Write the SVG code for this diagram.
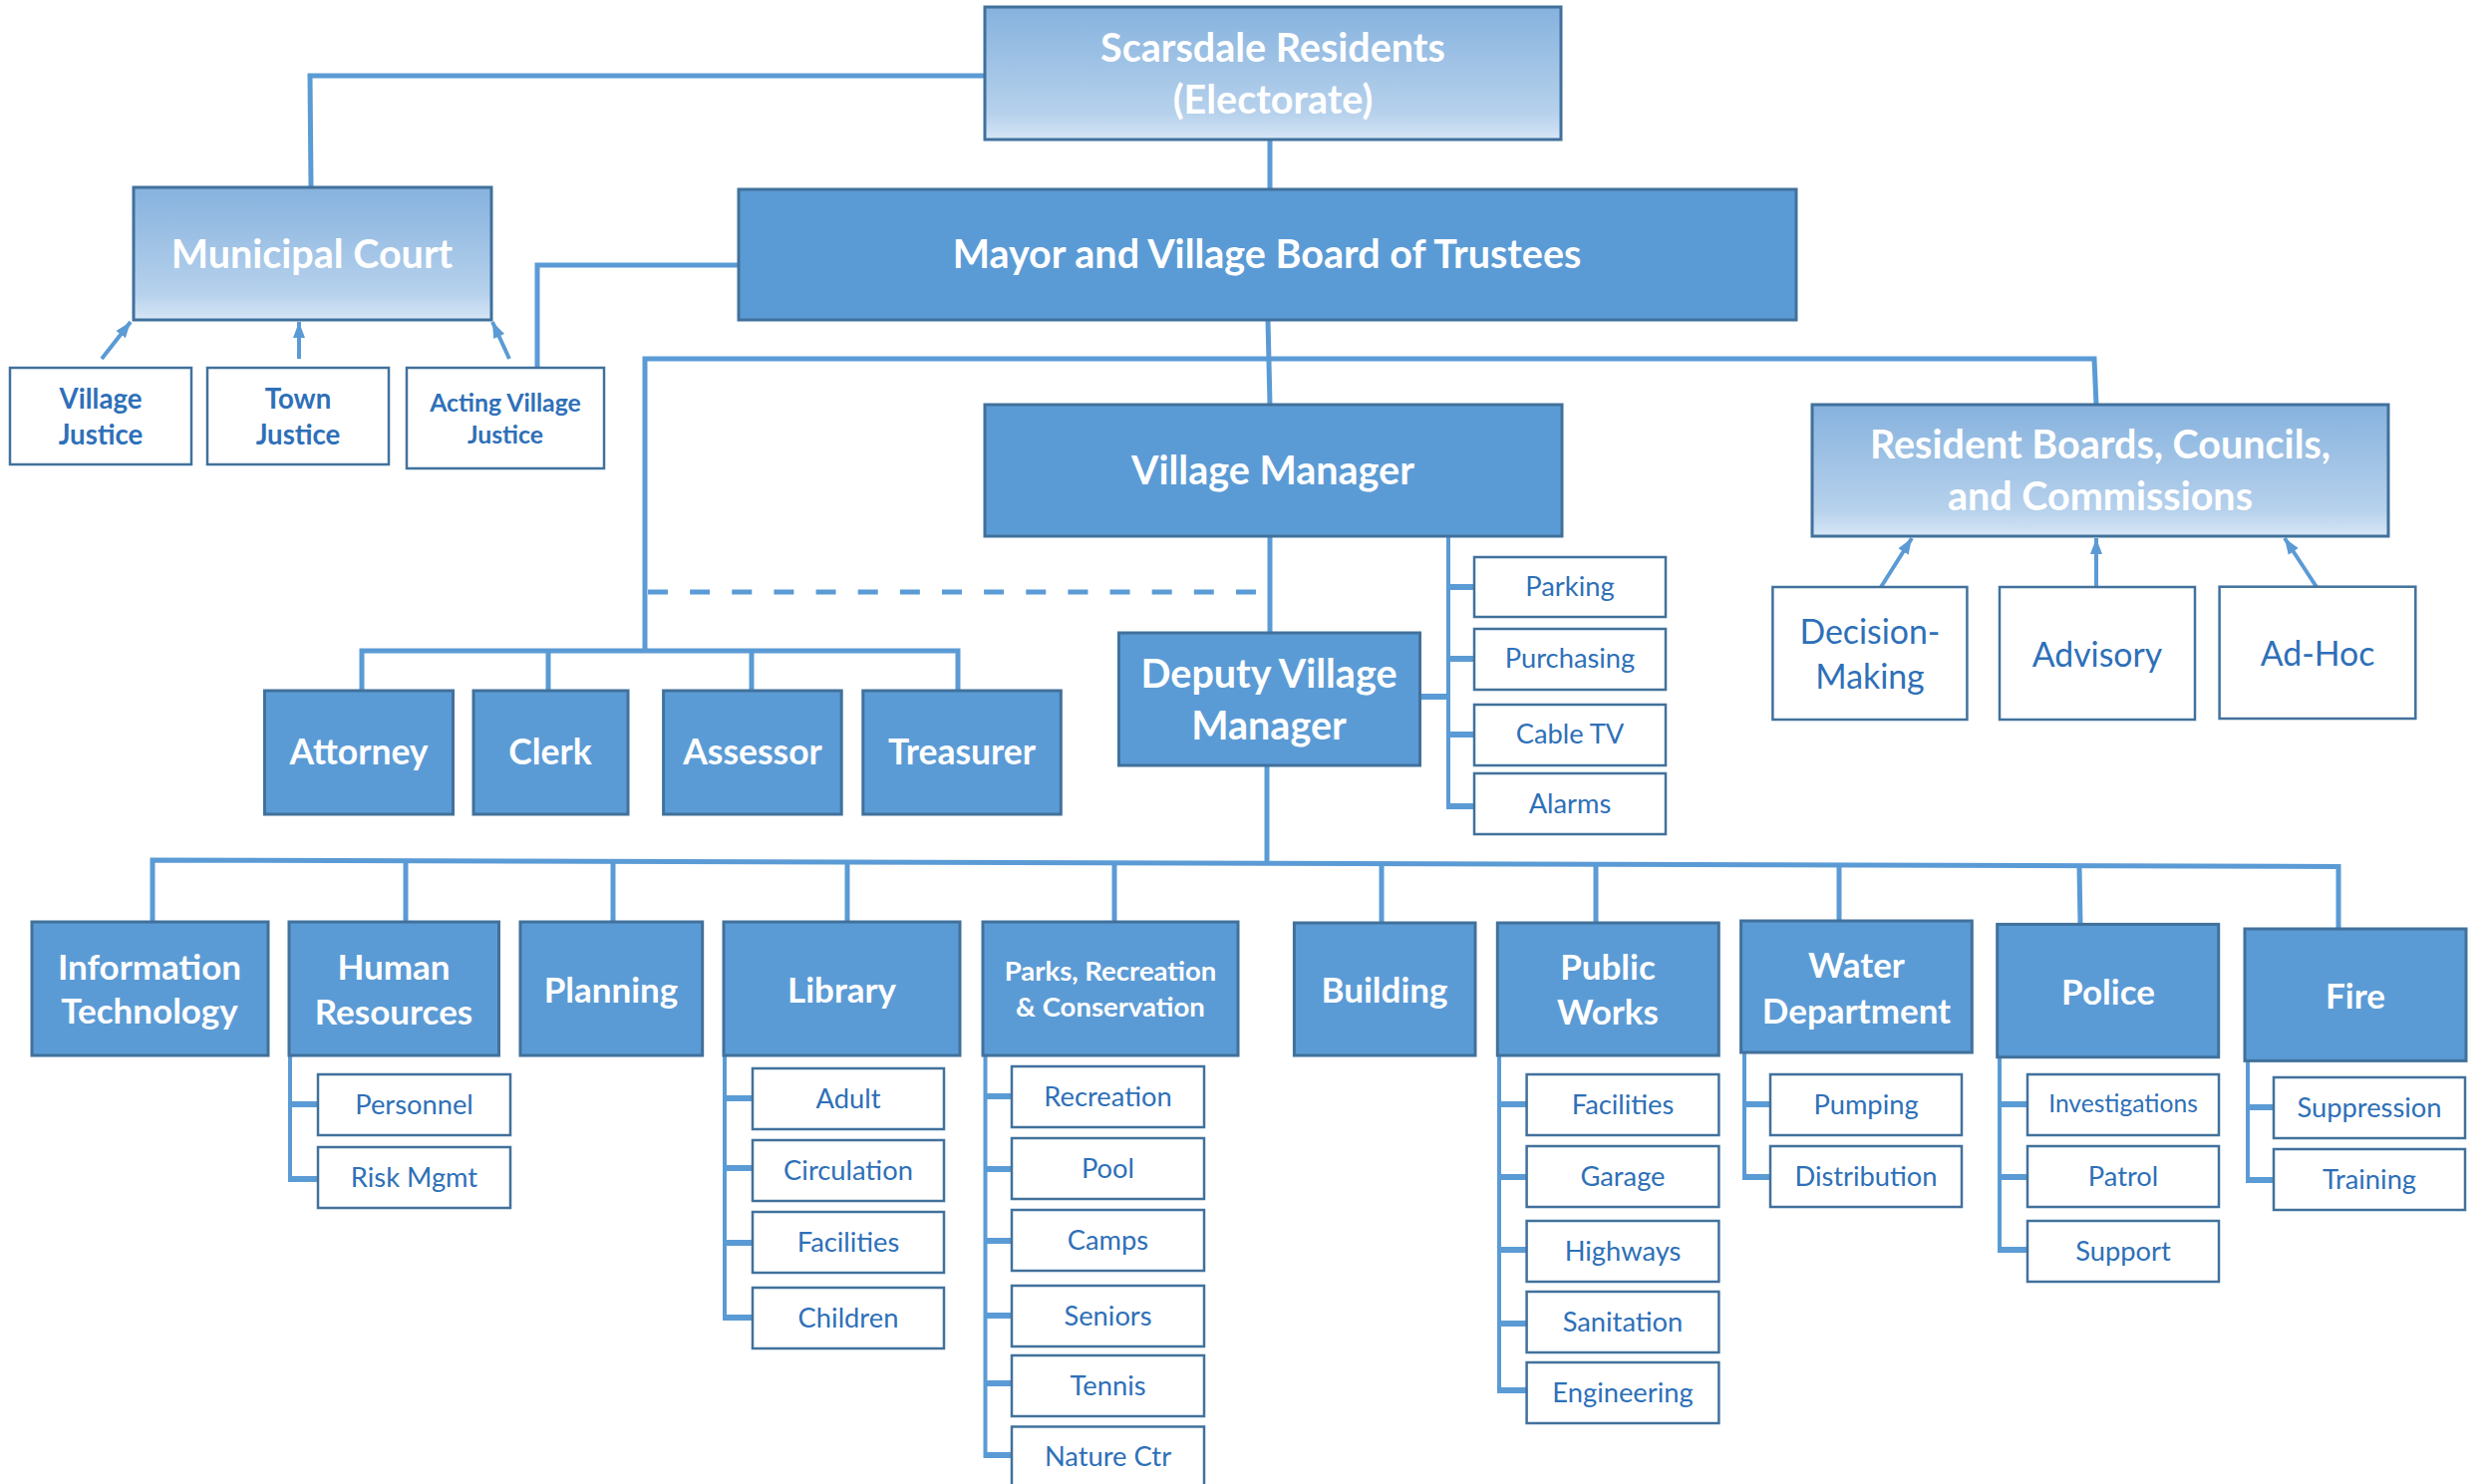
<svg xmlns="http://www.w3.org/2000/svg" width="2494" height="1489" viewBox="0 0 2494 1489">
<defs>
<linearGradient id="g" x1="0" y1="0" x2="0" y2="1">
<stop offset="0" stop-color="#86b2de"/>
<stop offset="0.8" stop-color="#b6d1ec"/>
<stop offset="1" stop-color="#d6e6f6"/>
</linearGradient>
<marker id="ah" markerUnits="userSpaceOnUse" markerWidth="16" markerHeight="14" refX="16" refY="7" orient="auto">
<path d="M0,1 L16,7 L0,13 Z" fill="#5b9bd5"/>
</marker>
<style>
.box{fill:#5b9bd5;stroke:#41719c;stroke-width:3}
.gbox{fill:url(#g);stroke:#41719c;stroke-width:3}
.sub{fill:#fff;stroke:#41719c;stroke-width:2.5}
.wt{font-family:Lato,"Open Sans",sans-serif;font-weight:700;fill:#fff;text-anchor:middle}
.bt{font-family:Lato,"Open Sans",sans-serif;fill:#2e70b8;text-anchor:middle}
.bb{font-family:Lato,"Open Sans",sans-serif;font-weight:700;fill:#2e70b8;text-anchor:middle}
.ln{stroke:#5b9bd5;stroke-width:5;fill:none}
.sp{stroke:#5b9bd5;stroke-width:4;fill:none}
.tk{stroke:#5b9bd5;stroke-width:6;fill:none}
.ar{stroke:#5b9bd5;stroke-width:4;fill:none;marker-end:url(#ah)}
.dash{stroke:#5b9bd5;stroke-width:5;fill:none;stroke-dasharray:20 22.14}
.f36{font-size:39.5px}.f33{font-size:35px}.f32{font-size:35.5px}.f27{font-size:27.5px}.f26{font-size:27.3px}.f23{font-size:24.8px}.f31{font-size:33.8px}.fjs{font-size:27.6px}.fin{font-size:24.6px}
</style>
</defs>

<g id="connectors">
<polyline class="ln" points="988,76 311,76 312,188"/>
<polyline class="ln" points="741,266 539,266 539,369"/>
<line class="ln" x1="1274" y1="140" x2="1274" y2="190"/>
<line class="ln" x1="1272" y1="321" x2="1274" y2="406"/>
<polyline class="ln" points="647,652 647,360 2101,360 2103,406"/>
<polyline class="ln" points="363,693 363,653 961,653 961,693"/>
<line class="ln" x1="550" y1="653" x2="550" y2="693"/>
<line class="ln" x1="754" y1="653" x2="754" y2="693"/>
<line class="dash" x1="650" y1="594" x2="1260" y2="594"/>
<line class="ln" x1="1274" y1="538" x2="1274" y2="635"/>
<line class="ln" x1="1271" y1="768" x2="1271" y2="866"/>
<!-- VM side spine -->
<line class="sp" x1="1453" y1="538" x2="1453" y2="812"/>
<line class="tk" x1="1424" y1="699" x2="1453" y2="699"/>
<line class="tk" x1="1451" y1="589" x2="1479" y2="589"/>
<line class="tk" x1="1451" y1="661" x2="1479" y2="661"/>
<line class="tk" x1="1451" y1="737" x2="1479" y2="737"/>
<line class="tk" x1="1451" y1="809" x2="1479" y2="809"/>
<!-- arrows -->
<line class="ar" x1="102" y1="360" x2="131" y2="323"/>
<line class="ar" x1="300" y1="360" x2="300" y2="323"/>
<line class="ar" x1="511" y1="360" x2="494" y2="323"/>
<line class="ar" x1="1887" y1="589" x2="1918" y2="540"/>
<line class="ar" x1="2103" y1="589" x2="2103" y2="540"/>
<line class="ar" x1="2324" y1="589" x2="2292" y2="540"/>
<!-- bottom bus -->
<polyline class="ln" points="153,925 153,863 2346,869.5 2346,932"/>
<line class="ln" x1="407" y1="864" x2="407" y2="925"/>
<line class="ln" x1="615" y1="864" x2="615" y2="925"/>
<line class="ln" x1="850" y1="865" x2="850" y2="926"/>
<line class="ln" x1="1118" y1="866" x2="1118" y2="926"/>
<line class="ln" x1="1386" y1="867" x2="1386" y2="926"/>
<line class="ln" x1="1601" y1="867" x2="1601" y2="926"/>
<line class="ln" x1="1845" y1="868" x2="1845" y2="924"/>
<line class="ln" x1="2086" y1="869" x2="2087" y2="927"/>
<!-- HR -->
<line class="sp" x1="291" y1="1058" x2="291" y2="1186"/>
<line class="tk" x1="289" y1="1108" x2="319" y2="1108"/>
<line class="tk" x1="289" y1="1183" x2="319" y2="1183"/>
<!-- Library -->
<line class="sp" x1="727" y1="1059" x2="727" y2="1325"/>
<line class="tk" x1="725" y1="1102" x2="755" y2="1102"/>
<line class="tk" x1="725" y1="1172" x2="755" y2="1172"/>
<line class="tk" x1="725" y1="1247" x2="755" y2="1247"/>
<line class="tk" x1="725" y1="1322" x2="755" y2="1322"/>
<!-- Parks -->
<line class="sp" x1="988.5" y1="1059" x2="988.5" y2="1463"/>
<line class="tk" x1="987" y1="1100" x2="1015" y2="1100"/>
<line class="tk" x1="987" y1="1173" x2="1015" y2="1173"/>
<line class="tk" x1="987" y1="1245" x2="1015" y2="1245"/>
<line class="tk" x1="987" y1="1320" x2="1015" y2="1320"/>
<line class="tk" x1="987" y1="1388" x2="1015" y2="1388"/>
<line class="tk" x1="987" y1="1460" x2="1015" y2="1460"/>
<!-- PW -->
<line class="sp" x1="1504" y1="1059" x2="1504" y2="1398"/>
<line class="tk" x1="1502" y1="1108" x2="1532" y2="1108"/>
<line class="tk" x1="1502" y1="1181" x2="1532" y2="1181"/>
<line class="tk" x1="1502" y1="1254" x2="1532" y2="1254"/>
<line class="tk" x1="1502" y1="1328" x2="1532" y2="1328"/>
<line class="tk" x1="1502" y1="1395" x2="1532" y2="1395"/>
<!-- Water -->
<line class="sp" x1="1750" y1="1056" x2="1750" y2="1184"/>
<line class="tk" x1="1748" y1="1108" x2="1776" y2="1108"/>
<line class="tk" x1="1748" y1="1181" x2="1776" y2="1181"/>
<!-- Police -->
<line class="sp" x1="2006" y1="1060" x2="2006" y2="1257"/>
<line class="tk" x1="2004" y1="1108" x2="2034" y2="1108"/>
<line class="tk" x1="2004" y1="1181" x2="2034" y2="1181"/>
<line class="tk" x1="2004" y1="1254" x2="2034" y2="1254"/>
<!-- Fire -->
<line class="sp" x1="2255" y1="1064" x2="2255" y2="1187"/>
<line class="tk" x1="2253" y1="1111" x2="2281" y2="1111"/>
<line class="tk" x1="2253" y1="1184" x2="2281" y2="1184"/>
</g>

<g id="scarsdale"><rect class="gbox" x="988" y="7" width="578" height="133"/><text class="wt f36" x="1277" y="62">Scarsdale Residents</text><text class="wt f36" x="1277" y="114">(Electorate)</text></g>
<g id="municipal-court"><rect class="gbox" x="134" y="188" width="359" height="133"/><text class="wt f36" x="313" y="269">Municipal Court</text></g>
<g id="mayor"><rect class="box" x="741" y="190" width="1061" height="131"/><text class="wt f36" x="1271" y="269">Mayor and Village Board of Trustees</text></g>
<g id="village-manager"><rect class="box" x="988" y="406" width="579" height="132"/><text class="wt f36" x="1277" y="486">Village Manager</text></g>
<g id="resident-boards"><rect class="gbox" x="1818" y="406" width="578" height="132"/><text class="wt f36" x="2107" y="460">Resident Boards, Councils,</text><text class="wt f36" x="2107" y="512">and Commissions</text></g>
<g id="deputy"><rect class="box" x="1122.5" y="635" width="302" height="133"/><text class="wt f36" x="1273" y="690">Deputy Village</text><text class="wt f36" x="1273" y="742">Manager</text></g>

<g id="village-justice"><rect class="sub" x="10" y="369" width="182" height="97"/><text class="bb fjs" x="101" y="410">Village</text><text class="bb fjs" x="101" y="446">Justice</text></g>
<g id="town-justice"><rect class="sub" x="208" y="369" width="182" height="97"/><text class="bb fjs" x="299" y="410">Town</text><text class="bb fjs" x="299" y="446">Justice</text></g>
<g id="acting-justice"><rect class="sub" x="408" y="369" width="198" height="101"/><text class="bb f23" x="507" y="413">Acting Village</text><text class="bb f23" x="507" y="445">Justice</text></g>

<g id="attorney"><rect class="box" x="265.5" y="693" width="189" height="124"/><text class="wt f32" x="360" y="767">Attorney</text></g>
<g id="clerk"><rect class="box" x="475" y="693" width="155" height="124"/><text class="wt f32" x="552" y="767">Clerk</text></g>
<g id="assessor"><rect class="box" x="665.6" y="693" width="178.6" height="124"/><text class="wt f32" x="755" y="767">Assessor</text></g>
<g id="treasurer"><rect class="box" x="865.8" y="693" width="198.5" height="124"/><text class="wt f32" x="965" y="767">Treasurer</text></g>

<g id="parking"><rect class="sub" x="1479" y="559" width="192" height="60"/><text class="bt f26" x="1575" y="598">Parking</text></g>
<g id="purchasing"><rect class="sub" x="1479" y="631" width="192" height="61"/><text class="bt f26" x="1575" y="670">Purchasing</text></g>
<g id="cable-tv"><rect class="sub" x="1479" y="707" width="192" height="61"/><text class="bt f26" x="1575" y="746">Cable TV</text></g>
<g id="alarms"><rect class="sub" x="1479" y="776" width="192" height="61"/><text class="bt f26" x="1575" y="816">Alarms</text></g>

<g id="decision-making"><rect class="sub" x="1778.4" y="589" width="195" height="133"/><text class="bt f31" x="1876" y="646">Decision-</text><text class="bt f31" x="1876" y="691">Making</text></g>
<g id="advisory"><rect class="sub" x="2006" y="589" width="196" height="133"/><text class="bt f31" x="2104" y="669">Advisory</text></g>
<g id="ad-hoc"><rect class="sub" x="2226.6" y="588.7" width="196.7" height="132.3"/><text class="bt f31" x="2325" y="668">Ad-Hoc</text></g>

<g id="it"><rect class="box" x="32" y="925" width="237" height="134"/><text class="wt f33" x="150" y="983">Information</text><text class="wt f33" x="150" y="1027">Technology</text></g>
<g id="hr"><rect class="box" x="290" y="925" width="210.5" height="134"/><text class="wt f33" x="395" y="983">Human</text><text class="wt f33" x="395" y="1028">Resources</text></g>
<g id="planning"><rect class="box" x="522" y="925" width="182.7" height="134"/><text class="wt f33" x="613" y="1006">Planning</text></g>
<g id="library"><rect class="box" x="726" y="925" width="237" height="134"/><text class="wt f33" x="844.5" y="1006">Library</text></g>
<g id="parks"><rect class="box" x="986" y="925" width="256" height="134"/><text class="wt f27" x="1114" y="984">Parks, Recreation</text><text class="wt f27" x="1114" y="1020">&amp; Conservation</text></g>
<g id="building"><rect class="box" x="1298.4" y="926" width="181.6" height="133"/><text class="wt f33" x="1389" y="1006">Building</text></g>
<g id="public-works"><rect class="box" x="1502.3" y="926" width="222" height="133"/><text class="wt f33" x="1613" y="983">Public</text><text class="wt f33" x="1613" y="1028">Works</text></g>
<g id="water"><rect class="box" x="1746.6" y="924" width="231.7" height="132"/><text class="wt f33" x="1862.5" y="981">Water</text><text class="wt f33" x="1862.5" y="1027">Department</text></g>
<g id="police"><rect class="box" x="2003.7" y="927.4" width="222" height="133.3"/><text class="wt f33" x="2115" y="1008">Police</text></g>
<g id="fire"><rect class="box" x="2252" y="932" width="222" height="132.4"/><text class="wt f33" x="2363" y="1012">Fire</text></g>

<g id="personnel"><rect class="sub" x="319" y="1078" width="193" height="61"/><text class="bt f26" x="415.5" y="1118">Personnel</text></g>
<g id="risk-mgmt"><rect class="sub" x="319" y="1151" width="193" height="61"/><text class="bt f26" x="415.5" y="1191">Risk Mgmt</text></g>

<g id="adult"><rect class="sub" x="755" y="1072" width="192" height="61"/><text class="bt f26" x="851" y="1112">Adult</text></g>
<g id="circulation"><rect class="sub" x="755" y="1144" width="192" height="61"/><text class="bt f26" x="851" y="1184">Circulation</text></g>
<g id="lib-facilities"><rect class="sub" x="755" y="1216" width="192" height="61"/><text class="bt f26" x="851" y="1256">Facilities</text></g>
<g id="children"><rect class="sub" x="755" y="1292" width="192" height="61"/><text class="bt f26" x="851" y="1332">Children</text></g>

<g id="recreation"><rect class="sub" x="1015" y="1070" width="193" height="61"/><text class="bt f26" x="1111.5" y="1110">Recreation</text></g>
<g id="pool"><rect class="sub" x="1015" y="1142" width="193" height="61"/><text class="bt f26" x="1111.5" y="1182">Pool</text></g>
<g id="camps"><rect class="sub" x="1015" y="1214" width="193" height="61"/><text class="bt f26" x="1111.5" y="1254">Camps</text></g>
<g id="seniors"><rect class="sub" x="1015" y="1290" width="193" height="61"/><text class="bt f26" x="1111.5" y="1330">Seniors</text></g>
<g id="tennis"><rect class="sub" x="1015" y="1360" width="193" height="61"/><text class="bt f26" x="1111.5" y="1400">Tennis</text></g>
<g id="nature-ctr"><rect class="sub" x="1015" y="1431.5" width="193" height="80"/><text class="bt f26" x="1111.5" y="1471">Nature Ctr</text></g>

<g id="pw-facilities"><rect class="sub" x="1531.6" y="1078" width="192.8" height="61"/><text class="bt f26" x="1628" y="1118">Facilities</text></g>
<g id="garage"><rect class="sub" x="1531.6" y="1150" width="192.8" height="61"/><text class="bt f26" x="1628" y="1190">Garage</text></g>
<g id="highways"><rect class="sub" x="1531.6" y="1225" width="192.8" height="61"/><text class="bt f26" x="1628" y="1265">Highways</text></g>
<g id="sanitation"><rect class="sub" x="1531.6" y="1296" width="192.8" height="61"/><text class="bt f26" x="1628" y="1336">Sanitation</text></g>
<g id="engineering"><rect class="sub" x="1531.6" y="1367" width="192.8" height="61"/><text class="bt f26" x="1628" y="1407">Engineering</text></g>

<g id="pumping"><rect class="sub" x="1776" y="1078" width="192" height="61"/><text class="bt f26" x="1872" y="1118">Pumping</text></g>
<g id="distribution"><rect class="sub" x="1776" y="1150" width="192" height="61"/><text class="bt f26" x="1872" y="1190">Distribution</text></g>

<g id="investigations"><rect class="sub" x="2034" y="1078" width="192" height="61"/><text class="bt fin" x="2130" y="1116">Investigations</text></g>
<g id="patrol"><rect class="sub" x="2034" y="1150" width="192" height="61"/><text class="bt f26" x="2130" y="1190">Patrol</text></g>
<g id="support"><rect class="sub" x="2034" y="1225" width="192" height="61"/><text class="bt f26" x="2130" y="1265">Support</text></g>

<g id="suppression"><rect class="sub" x="2281" y="1081" width="192" height="61"/><text class="bt f26" x="2377" y="1121">Suppression</text></g>
<g id="training"><rect class="sub" x="2281" y="1153" width="192" height="61"/><text class="bt f26" x="2377" y="1193">Training</text></g>
</svg>
